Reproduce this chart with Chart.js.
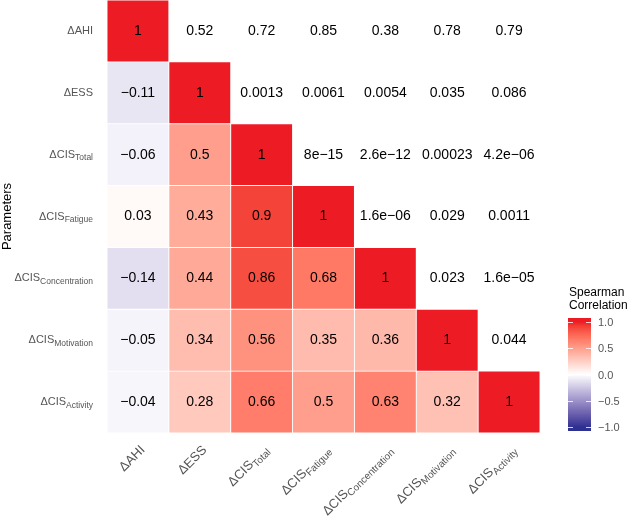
<body>
  <canvas id="heatmap" width="638" height="527"></canvas>

  <style>
    body {
      margin: 0;
      background-color: #ffffff;
    }
  </style>

  <script src="https://cdn.jsdelivr.net/npm/chart.js"></script>
  <script>
    // Data
    const paramNames = ['ΔAHI', 'ΔESS', 'ΔCIS', 'ΔCIS', 'ΔCIS', 'ΔCIS', 'ΔCIS'];
    const paramSubs = ['', '', 'Total', 'Fatigue', 'Concentration', 'Motivation', 'Activity'];
    // lower triangle (incl. diagonal): Spearman rho, row by row
    const rhoRows = [
      [1],
      [-0.11, 1],
      [-0.06, 0.5, 1],
      [0.03, 0.43, 0.9, 1],
      [-0.14, 0.44, 0.86, 0.68, 1],
      [-0.05, 0.34, 0.56, 0.35, 0.36, 1],
      [-0.04, 0.28, 0.66, 0.5, 0.63, 0.32, 1]
    ];
    // upper triangle: p-values, row by row (columns right of the diagonal)
    const pRows = [
      ['0.52', '0.72', '0.85', '0.38', '0.78', '0.79'],
      ['0.0013', '0.0061', '0.0054', '0.035', '0.086'],
      ['8e−15', '2.6e−12', '0.00023', '4.2e−06'],
      ['1.6e−06', '0.029', '0.0011'],
      ['0.023', '1.6e−05'],
      ['0.044'],
      []
    ];
    const legendTicks = [1, 0.5, 0, -0.5, -1];
    const legendTickLabels = ['1.0', '0.5', '0.0', '−0.5', '−1.0'];
    const legendTitle = ['Spearman', 'Correlation'];

    const FONT = '"Liberation Sans", Arial, sans-serif';
    const LOW = [46, 49, 146], MID = [255, 255, 255], HIGH = [237, 28, 36];

    // Lab interpolation like scale_fill_gradient2
    const toLin = c => { c /= 255; return c <= 0.04045 ? c / 12.92 : Math.pow((c + 0.055) / 1.055, 2.4); };
    const fromLin = c => {
      let v = c <= 0.0031308 ? 12.92 * c : 1.055 * Math.pow(c, 1 / 2.4) - 0.055;
      return Math.round(Math.max(0, Math.min(1, v)) * 255);
    };
    const rgbToLab = (rgb) => {
      let r = toLin(rgb[0]), g = toLin(rgb[1]), b = toLin(rgb[2]);
      let x = (0.4124 * r + 0.3576 * g + 0.1805 * b) / 0.95047;
      let y = 0.2126 * r + 0.7152 * g + 0.0722 * b;
      let z = (0.0193 * r + 0.1192 * g + 0.9505 * b) / 1.08883;
      const f = t => t > 0.008856 ? Math.cbrt(t) : 7.787 * t + 16 / 116;
      x = f(x); y = f(y); z = f(z);
      return [116 * y - 16, 500 * (x - y), 200 * (y - z)];
    };
    const labToRgb = (lab) => {
      let y = (lab[0] + 16) / 116, x = lab[1] / 500 + y, z = y - lab[2] / 200;
      const fi = t => t * t * t > 0.008856 ? t * t * t : (t - 16 / 116) / 7.787;
      x = fi(x) * 0.95047; y = fi(y); z = fi(z) * 1.08883;
      return [
        fromLin(3.2406 * x - 1.5372 * y - 0.4986 * z),
        fromLin(-0.9689 * x + 1.8758 * y + 0.0415 * z),
        fromLin(0.0557 * x - 0.2040 * y + 1.0570 * z)
      ];
    };
    const labLow = rgbToLab(LOW), labMid = rgbToLab(MID), labHigh = rgbToLab(HIGH);
    const fillColor = (v) => {
      let end = v >= 0 ? labHigh : labLow;
      let t = Math.min(1, Math.abs(v));
      let lab = labMid.map((m, i) => m + (end[i] - m) * t);
      let rgb = labToRgb(lab);
      return 'rgb(' + rgb.join(',') + ')';
    };
    const fmt = v => (v < 0 ? '−' : '') + String(Math.abs(v));

    // one floating-bar dataset per row
    const colLabels = paramNames.map((n, i) => n + paramSubs[i]);
    const datasets = rhoRows.map((row, r) => ({
      data: colLabels.map((_, c) => c <= r ? [r, r + 1] : null),
      backgroundColor: colLabels.map((_, c) => c <= r ? fillColor(row[c]) : 'rgba(0,0,0,0)'),
      borderColor: 'rgba(255,255,255,0.55)',
      borderWidth: 0.8,
      borderSkipped: false,
      grouped: false,
      barPercentage: 1,
      categoryPercentage: 1
    }));

    // Plugins
    const cellText = {
      id: 'cellText',
      afterDatasetsDraw(chart) {
        const ctx = chart.ctx, xs = chart.scales.x, ys = chart.scales.y;
        ctx.save();
        ctx.font = '14px ' + FONT;
        ctx.fillStyle = '#000';
        ctx.textAlign = 'center';
        ctx.textBaseline = 'middle';
        for (let r = 0; r < rhoRows.length; r++) {
          let y = ys.getPixelForValue(r + 0.5);
          rhoRows[r].forEach((v, c) => ctx.fillText(fmt(v), xs.getPixelForValue(c), y));
          pRows[r].forEach((p, k) => ctx.fillText(p, xs.getPixelForValue(r + 1 + k), y));
        }
        ctx.restore();
      }
    };

    const axisLabels = {
      id: 'axisLabels',
      afterDraw(chart) {
        const ctx = chart.ctx, xs = chart.scales.x, ys = chart.scales.y, area = chart.chartArea;
        ctx.save();
        ctx.fillStyle = '#555';
        ctx.textBaseline = 'middle';
        // y labels, right aligned
        paramNames.forEach((name, i) => {
          let y = ys.getPixelForValue(i + 0.5);
          let right = area.left - 14;
          ctx.font = '8.5px ' + FONT;
          let sw = ctx.measureText(paramSubs[i]).width;
          ctx.textAlign = 'right';
          ctx.fillText(paramSubs[i], right, y + 3.5);
          ctx.font = '11px ' + FONT;
          ctx.fillText(name, right - sw, y);
        });
        // x labels, rotated 45 degrees
        paramNames.forEach((name, i) => {
          let x = xs.getPixelForValue(i) + 5;
          let y = area.bottom + 15;
          ctx.save();
          ctx.translate(x, y);
          ctx.rotate(-Math.PI / 4);
          ctx.font = '10px ' + FONT;
          let sw = ctx.measureText(paramSubs[i]).width;
          ctx.font = '13px ' + FONT;
          let mw = ctx.measureText(name).width;
          ctx.textAlign = 'left';
          ctx.fillText(name, -(mw + sw), 0);
          ctx.font = '10px ' + FONT;
          ctx.fillText(paramSubs[i], -sw, 4);
          ctx.restore();
        });
        ctx.restore();
      }
    };

    const colorBar = {
      id: 'colorBar',
      afterDraw(chart) {
        const ctx = chart.ctx, area = chart.chartArea;
        let left = area.right + 28, width = 23;
        let yTop = 322, yBottom = 427;   // positions of +1 and -1
        let toY = v => yTop + (1 - v) / 2 * (yBottom - yTop);
        ctx.save();
        ctx.fillStyle = '#000';
        ctx.font = '12px ' + FONT;
        ctx.textAlign = 'left';
        ctx.textBaseline = 'middle';
        legendTitle.forEach((t, i) => ctx.fillText(t, left + 1, 293 + i * 13));
        for (let y = yTop - 4; y < yBottom + 4; y++) {
          let v = Math.max(-1, Math.min(1, 1 - (y + 0.5 - yTop) / (yBottom - yTop) * 2));
          ctx.fillStyle = fillColor(v);
          ctx.fillRect(left, y, width, 1);
        }
        ctx.strokeStyle = 'rgba(255,255,255,0.8)';
        ctx.lineWidth = 1;
        ctx.fillStyle = '#555';
        ctx.font = '11px ' + FONT;
        legendTicks.forEach((v, i) => {
          let y = Math.round(toY(v)) + 0.5;
          ctx.beginPath();
          ctx.moveTo(left, y); ctx.lineTo(left + 5, y);
          ctx.moveTo(left + width - 5, y); ctx.lineTo(left + width, y);
          ctx.stroke();
          ctx.fillText(legendTickLabels[i], left + width + 7, y);
        });
        ctx.restore();
      }
    };

    const canvas = window.document.querySelector('canvas');
    const context = canvas.getContext('2d');
    const chart = new Chart(context, {
      type: 'bar',
      data: { labels: colLabels, datasets: datasets },
      options: {
        responsive: false,
        animation: false,
        layout: { padding: { right: 98, top: 0 } },
        plugins: {
          legend: { display: false },
          tooltip: { enabled: false }
        },
        scales: {
          x: {
            offset: true,
            grid: { display: false },
            border: { display: false },
            ticks: { display: false },
            afterFit: s => { s.height = 94; }
          },
          y: {
            min: 0,
            max: 7,
            reverse: true,
            grid: { display: false },
            border: { display: false },
            ticks: { display: false },
            title: {
              display: true,
              text: 'Parameters',
              color: '#000',
              font: { size: 13, family: FONT },
              padding: 0
            },
            afterFit: s => { s.width = 107; }
          }
        }
      },
      plugins: [cellText, axisLabels, colorBar]
    });
  </script>
</body>
